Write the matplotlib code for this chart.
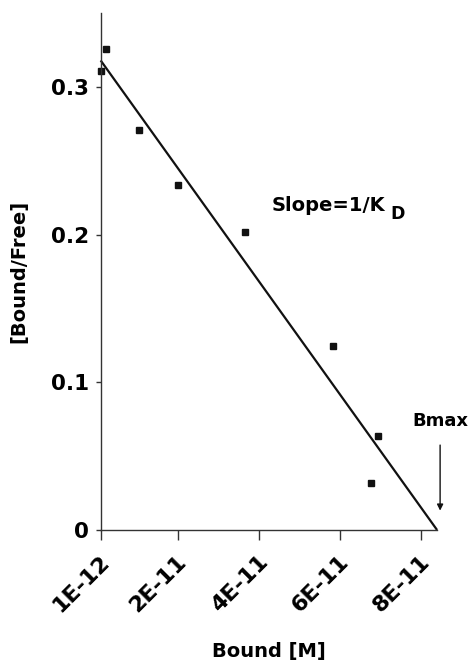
import matplotlib
matplotlib.use("Agg")
import matplotlib.pyplot as plt
from matplotlib.transforms import ScaledTranslation

plt.rcParams['font.family'] = ['DejaVu Sans']
plt.rcParams['font.weight'] = 'bold'

# Scatchard data: bound concentration [M] vs bound/free ratio
bound = [1.0e-12, 2.2e-12, 1.04e-11, 2.02e-11, 3.65e-11, 5.83e-11, 6.95e-11, 6.78e-11]
bound_free = [0.311, 0.326, 0.271, 0.2334, 0.2015, 0.1246, 0.0638, 0.032]

# Linear fit endpoints (y-intercept and x-intercept = Bmax)
fit_x = [1.0e-12, 8.4e-11]
fit_y = [0.318, 0.0]

xticks = [1e-12, 2e-11, 4e-11, 6e-11, 8e-11]
xtick_labels = ['1E-12', '2E-11', '4E-11', '6E-11', '8E-11']
yticks = [0, 0.1, 0.2, 0.3]
ytick_labels = ['0', '0.1', '0.2', '0.3']

fig = plt.figure(figsize=(4.72, 6.6), dpi=100)
ax = fig.add_axes([0.2133, 0.197, 0.7127, 0.783])

ax.plot(fit_x, fit_y, color='#111111', lw=1.6, solid_capstyle='butt', clip_on=False)
ax.plot(bound, bound_free, ls='none', marker='s', ms=5, color='#111111', clip_on=False)

ax.set_xlim(1e-12, 8.4e-11)
ax.set_ylim(0, 0.35)

for s in ['top', 'right']:
    ax.spines[s].set_visible(False)
for s in ['left', 'bottom']:
    ax.spines[s].set_linewidth(1.0)
    ax.spines[s].set_color('#333333')

ax.tick_params(axis='y', length=3.6, width=1, pad=5, direction='out', color='#333333')
ax.tick_params(axis='x', length=7.2, width=1, pad=16.5, direction='out', color='#333333')

ax.set_yticks(yticks)
ax.set_yticklabels(ytick_labels, fontsize=15.5, fontweight='bold')
ax.set_xticks(xticks)
ax.set_xticklabels(xtick_labels, fontsize=16, fontweight='bold',
                   rotation=45, ha='right', va='baseline', rotation_mode='anchor')
# nudge the rotated labels so they sit just right of their ticks
shift = ScaledTranslation(0.10, 0, fig.dpi_scale_trans)
for lbl in ax.get_xticklabels():
    lbl.set_transform(lbl.get_transform() + shift)

ax.set_ylabel('[Bound/Free]', fontsize=14, fontweight='bold')
ax.yaxis.set_label_coords(-0.2147, 0.5)
ax.set_xlabel('Bound [M]', fontsize=14, fontweight='bold')
ax.xaxis.set_label_coords(0.5, -0.2166)

ax.text(4.32e-11, 0.2162, 'Slope=1/K', fontsize=14, fontweight='bold',
        ha='left', va='baseline')
ax.text(7.26e-11, 0.2104, 'D', fontsize=12.5, fontweight='bold',
        ha='left', va='baseline')

ax.text(8.47e-11, 0.0704, 'Bmax', fontsize=13, fontweight='bold',
        ha='center', va='baseline', clip_on=False)
ax.annotate('', xy=(8.475e-11, 0.0131), xytext=(8.475e-11, 0.0575),
            arrowprops=dict(arrowstyle='-|>', lw=1.0, color='#111111',
                            mutation_scale=9, shrinkA=0, shrinkB=0),
            annotation_clip=False)

fig.savefig('out.png', dpi=100)
